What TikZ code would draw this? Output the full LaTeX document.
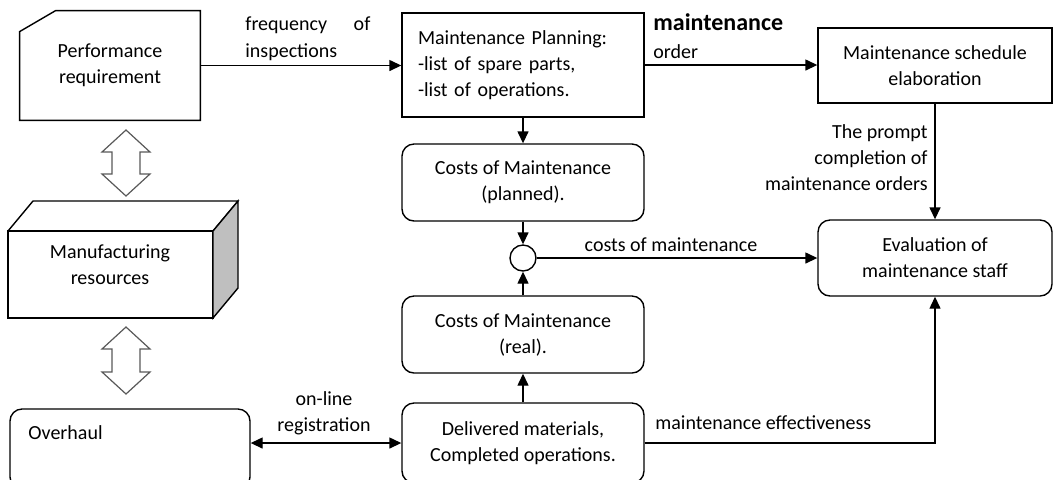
\documentclass[tikz,border=0pt]{standalone}
\usepackage{fontspec}
\setmainfont{Carlito}
\usetikzlibrary{arrows.meta}
\def\vdarrow(#1,#2,#3){\draw[blockarr] (#1,#2) -- (#1+24,#2+22) -- (#1+14,#2+22) -- (#1+14,#3-22) -- (#1+24,#3-22) -- (#1,#3) -- (#1-24,#3-22) -- (#1-14,#3-22) -- (#1-14,#2+22) -- (#1-24,#2+22) -- cycle;}
\tikzset{
	every node/.style={font=\fontsize{10}{13}\selectfont},
	box/.style={draw, line width=0.7pt, minimum width=121pt, align=center},
	rbox/.style={box, rounded corners=6pt},
	lbl/.style={inner sep=0pt},
	arr/.style={line width=0.7pt, -{Triangle[length=6pt,width=5.5pt]}},
	dblarr/.style={line width=0.7pt, {Triangle[length=6pt,width=5.5pt]}-{Triangle[length=6pt,width=5.5pt]}},
	blockarr/.style={draw=black!65, line width=0.6pt, fill=white}
}

\begin{document}
\begin{tikzpicture}[x=0.5pt,y=-0.5pt]
				\useasboundingbox (0,0) rectangle (1053,479);
				
				% left column
				\node[minimum width=90pt, minimum height=54.5pt, align=center] (perf) at (110,65.5) {Performance\\requirement};
				\draw[line width=0.7pt] ([xshift=18pt]perf.north west) -- (perf.north east) -- (perf.south east) -- (perf.south west) -- ([yshift=-10.5pt]perf.north west) -- cycle;
				
				\vdarrow(126,130,196)
				
				\draw[line width=0.7pt] (8,231) rectangle (213,318);
				\draw[line width=0.7pt] (8,231) -- (33,201) -- (238,201) -- (213,231);
				\draw[line width=0.7pt, fill=black!25] (213,231) -- (238,201) -- (238,288) -- (213,318) -- cycle;
				\node[align=center] (mfg) at (110,265) {Manufacturing\\resources};
				
				\vdarrow(126,327,394)
				
				\node[rbox, minimum width=120pt, minimum height=40pt] (ovh) at (130,449) {};
				\node[lbl, anchor=west] at (28,433) {Overhaul};
				
				% middle column
				\node[box, minimum height=52pt, align=left, text width=105pt] (plan) at (523,65) {Maintenance Planning:\\-list of spare parts,\\-list of operations.};
				\node[rbox, minimum height=38.5pt] (costp) at (523,182.5) {Costs of Maintenance\\(planned).};
				\node[draw, circle, line width=0.7pt, minimum size=13pt, inner sep=0pt] (sum) at (523,258) {};
				\node[rbox, minimum height=38.5pt] (costr) at (523,334.5) {Costs of Maintenance\\(real).};
				\node[rbox, minimum height=40pt] (deliv) at (523,443) {Delivered materials,\\Completed operations.};
				
				% right column
				\node[box, minimum width=117pt, minimum height=37.5pt] (sched) at (935,65.5) {Maintenance schedule\\elaboration};
				\node[rbox, minimum width=117pt, minimum height=38pt] (eval) at (935,258) {Evaluation of\\maintenance staff};
				
				% connectors
				\draw[arr] (perf.east) -- (perf.east -| plan.west);
				\draw[arr] (plan.east) -- (plan.east -| sched.west);
				\draw[arr] (plan.south) -- (costp.north);
				\draw[arr] (costp.south) -- (sum.north);
				\draw[arr] (costr.north) -- (sum.south);
				\draw[arr] (deliv.north) -- (costr.south);
				\draw[arr] (sum.east) -- (sum.east -| eval.west);
				\draw[arr] (sched.south) -- (eval.north);
				\draw[arr] (deliv.east) -| (eval.south);
				\draw[dblarr] (deliv.west -| ovh.east) -- (deliv.west);
				
				% labels
				\node[lbl, anchor=west] at (245,25) {\makebox[62.5pt][s]{frequency of}};
				\node[lbl, anchor=west] at (245,52) {inspections};
				\node[lbl, anchor=west, font=\bfseries\fontsize{12}{14}\selectfont] at (653,22) {maintenance};
				\node[lbl, anchor=west] at (653,52) {order};
				\node[lbl, anchor=east, align=right] at (928,158) {The prompt\\completion of\\maintenance orders};
				\node[lbl] at (671,245) {costs of maintenance};
				\node[lbl, align=center] at (324,413) {on-line\\registration};
				\node[lbl, anchor=west] at (655,423) {maintenance effectiveness};
\end{tikzpicture}
\end{document}
